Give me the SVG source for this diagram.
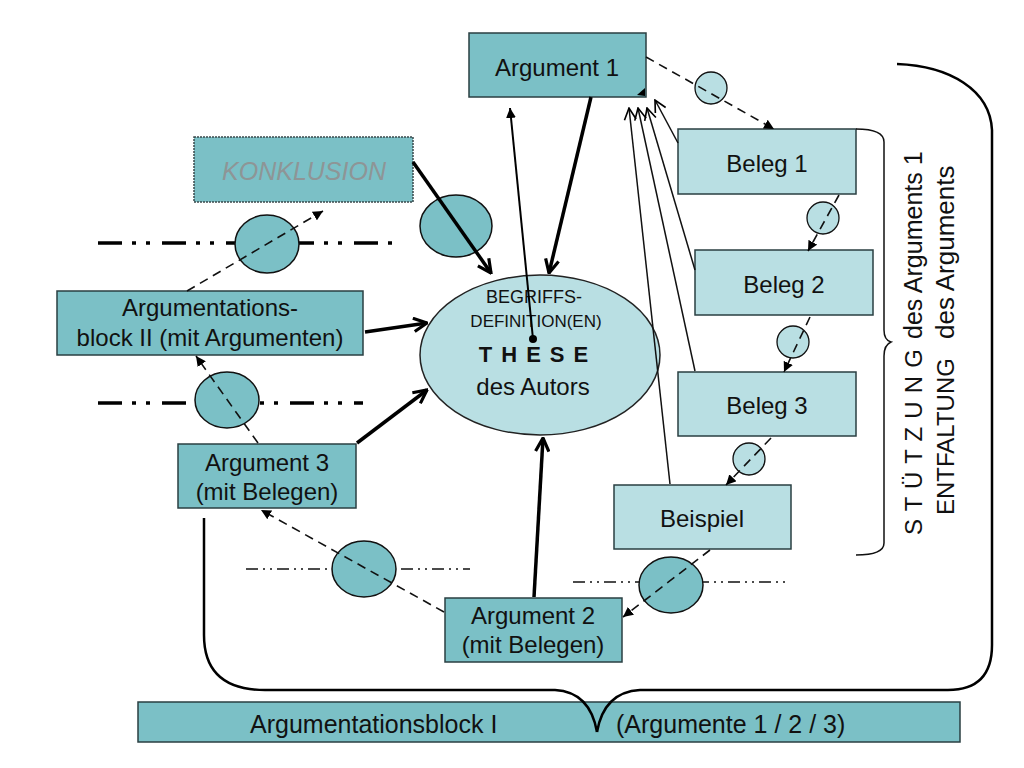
<svg xmlns="http://www.w3.org/2000/svg" width="1024" height="768" viewBox="0 0 1024 768">
<defs>
<style>
text{font-family:"Liberation Sans",Arial,sans-serif;fill:#111;}
.t{font-size:24px;text-anchor:middle;}
.dark{fill:#7bc0c6;stroke:#2a3f42;stroke-width:1.5;}
.light{fill:#b9dfe3;stroke:#2a3f42;stroke-width:1.5;}
.bub{fill:#7bc0c6;stroke:#111;stroke-width:1.5;}
.sbub{fill:#b9dfe3;stroke:#111;stroke-width:1.3;}
.dash{fill:none;stroke:#111;stroke-width:1.6;stroke-dasharray:9 6;marker-end:url(#tri);}
.bold{fill:none;stroke:#000;stroke-width:3.5;marker-end:url(#openB);}
.thin{fill:none;stroke:#111;stroke-width:1.5;marker-end:url(#openT);}
.ddh{fill:none;stroke:#000;stroke-width:3.5;stroke-dasharray:24 10 4 10 4 12;}
.ddt{fill:none;stroke:#111;stroke-width:1.5;stroke-dasharray:12 5 2 5 2 5;}
.brace{fill:none;stroke:#000;stroke-width:2.5;}
.vt{font-size:24px;}
</style>
<marker id="tri" viewBox="0 0 10 10" refX="10" refY="5" markerWidth="10" markerHeight="10" markerUnits="userSpaceOnUse" orient="auto"><path d="M0,0 L10,5 L0,10 z" fill="#000"/></marker>
<marker id="openB" viewBox="0 0 12 12" refX="11" refY="6" markerWidth="16" markerHeight="16" markerUnits="userSpaceOnUse" orient="auto"><path d="M1,1 L11,6 L1,11" fill="none" stroke="#000" stroke-width="2.4"/></marker>
<marker id="openT" viewBox="0 0 12 12" refX="11" refY="6" markerWidth="14" markerHeight="14" markerUnits="userSpaceOnUse" orient="auto"><path d="M1,1 L11,6 L1,11" fill="none" stroke="#000" stroke-width="1.4"/></marker>
</defs>
<rect width="1024" height="768" fill="#fff"/>

<g id="argument1">
<rect class="dark" x="469" y="33" width="177" height="64"/>
<text class="t" x="557" y="76">Argument 1</text>
<polygon points="637,95 645,88 645,96" fill="#000"/>
</g>
<g id="konklusion">
<rect x="194" y="137" width="219" height="65" fill="#7bc0c6" stroke="#3a4a4c" stroke-width="1.5" stroke-dasharray="2 1"/>
<text class="t" x="304" y="180" style="fill:#8e9596;font-style:italic;font-size:25px">KONKLUSION</text>
</g>
<g id="beleg1">
<rect class="light" x="678" y="129" width="178" height="65"/>
<text class="t" x="767" y="172">Beleg 1</text>
</g>
<g id="beleg2">
<rect class="light" x="695" y="250" width="178" height="65"/>
<text class="t" x="784" y="293">Beleg 2</text>
</g>
<g id="beleg3">
<rect class="light" x="678" y="372" width="178" height="64"/>
<text class="t" x="767" y="414">Beleg 3</text>
</g>
<g id="beispiel">
<rect class="light" x="614" y="485" width="177" height="64"/>
<text class="t" x="702" y="527">Beispiel</text>
</g>
<g id="argument2">
<rect class="dark" x="445" y="598" width="177" height="64"/>
<text class="t" x="533" y="624">Argument 2</text>
<text class="t" x="533" y="653">(mit Belegen)</text>
</g>
<g id="argument3">
<rect class="dark" x="178" y="444" width="178" height="64"/>
<text class="t" x="267" y="471">Argument 3</text>
<text class="t" x="267" y="500">(mit Belegen)</text>
</g>
<g id="block2">
<rect class="dark" x="57" y="291" width="306" height="64"/>
<text class="t" x="210" y="316">Argumentations-</text>
<text class="t" x="210" y="346">block II (mit Argumenten)</text>
</g>
<g id="these">
<ellipse class="light" cx="540" cy="355" rx="120" ry="80" style="stroke:#222"/>
<text class="t" x="534" y="303" style="font-size:18px">BEGRIFFS-</text>
<text class="t" x="536" y="327" style="font-size:17px">DEFINITION(EN)</text>
<text class="t" x="538" y="362" style="font-size:22px;font-weight:bold;letter-spacing:9px">THESE</text>
<text class="t" x="533" y="395">des Autors</text>
<circle cx="533" cy="339" r="4" fill="#000"/>
</g>
<g id="block1">
<rect class="dark" x="138" y="702" width="822" height="40"/>
<text x="250" y="733" style="font-size:25px">Argumentationsblock I</text>
<text x="616" y="733" style="font-size:25px">(Argumente 1 / 2 / 3)</text>
</g>
<g id="stuetzung">
<text class="vt" transform="translate(922,535) rotate(-90)" textLength="186" lengthAdjust="spacing">S T Ü T Z U N G</text>
<text class="vt" transform="translate(922,339) rotate(-90)" style="font-size:25px">des Arguments 1</text>
<text class="vt" transform="translate(954,515) rotate(-90)">ENTFALTUNG</text>
<text class="vt" transform="translate(954,339) rotate(-90)" style="font-size:26px">des Arguments</text>
</g>

<g id="braces">
<path class="brace" d="M204,518 L204,635 Q204,690 265,690 L555,690 Q590,692 597,732"/>
<path class="brace" d="M597,732 Q604,692 640,690 L948,690 Q992,690 992,645 L992,130 C990,90 950,66 897,64"/>
<path d="M856,129 Q884,129 884,142 L884,330 Q884,340 891,342 Q884,345 884,356 L884,543 Q884,555 856,555" fill="none" stroke="#111" stroke-width="1.5"/>
</g>

<g id="connectors">
<line class="ddh" x1="98" y1="243" x2="397" y2="243"/>
<line class="ddh" x1="98" y1="403" x2="363" y2="403"/>
<line class="ddt" x1="246" y1="569" x2="470" y2="569"/>
<line class="ddt" x1="573" y1="582" x2="787" y2="582"/>
<ellipse class="bub" cx="267" cy="244" rx="32" ry="29"/>
<ellipse class="bub" cx="227" cy="400" rx="32" ry="28"/>
<ellipse class="bub" cx="364" cy="569" rx="32" ry="28"/>
<ellipse class="bub" cx="671" cy="585" rx="32" ry="28"/>
<ellipse class="bub" cx="456" cy="226" rx="36" ry="31"/>
<circle class="sbub" cx="711" cy="88" r="16"/>
<circle class="sbub" cx="823" cy="218" r="16"/>
<circle class="sbub" cx="793" cy="342" r="16"/>
<circle class="sbub" cx="749" cy="459" r="16"/>
<path class="dash" d="M646,57 L774,129"/>
<path class="dash" d="M839,195 L808,251"/>
<path class="dash" d="M810,317 L784,372"/>
<path class="dash" d="M771,438 L726,485"/>
<path class="dash" d="M710,550 L623,617"/>
<path class="dash" d="M444,612 L261,510"/>
<path class="dash" d="M258,443 L196,356"/>
<path class="dash" d="M187,291 L323,211"/>
<path class="bold" d="M413,162 L491,273"/>
<path class="bold" d="M591,97 L549,273"/>
<path class="bold" d="M365,332 L427,323"/>
<path class="bold" d="M357,443 L427,390"/>
<path class="bold" d="M534,597 L543,438"/>
<path d="M533,339 L510,108" fill="none" stroke="#000" stroke-width="2" marker-end="url(#tri)"/>
<path class="thin" d="M678,143 L655,100"/>
<path class="thin" d="M695,270 L647,108"/>
<path class="thin" d="M695,371 L638,108"/>
<path class="thin" d="M670,484 L629,108"/>
</g>
</svg>
